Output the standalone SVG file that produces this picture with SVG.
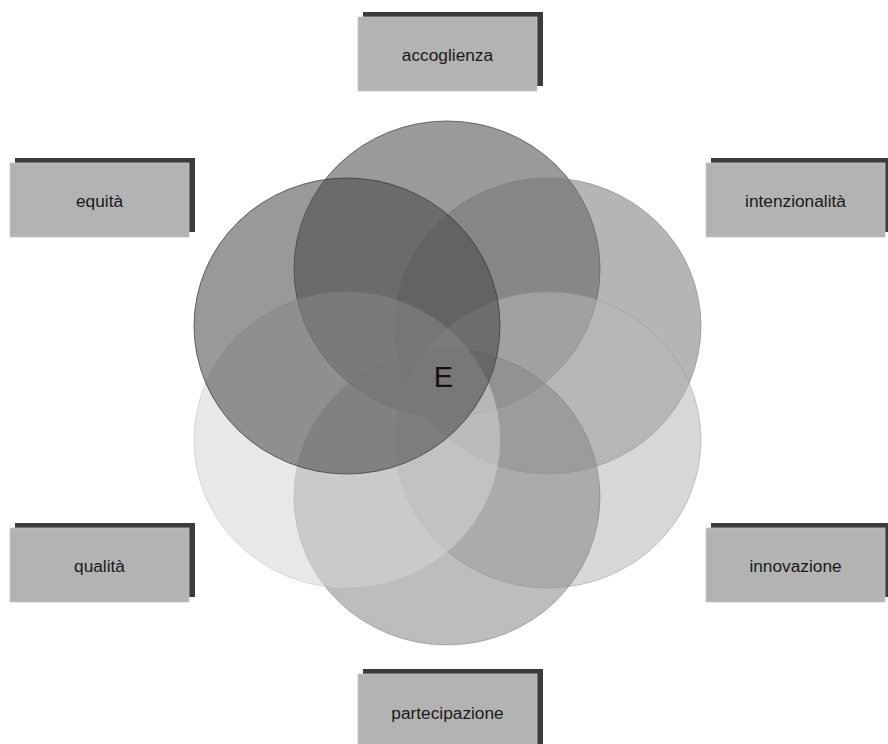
<svg xmlns="http://www.w3.org/2000/svg" width="888" height="744" viewBox="0 0 888 744">
<style>
.shadow{fill:#3b3b3b}
.box{fill:#b3b3b3;stroke:#c4c4c4;stroke-width:0.8}
.lbl{font-family:"Liberation Sans",Arial,sans-serif;font-size:17.3px;fill:#1a1a1a;text-anchor:middle}
.c{fill-opacity:0.55;stroke-width:1}
</style>
<rect width="888" height="744" fill="#ffffff"/>
<g id="circles">
<ellipse id="c-top" class="c" cx="447" cy="269" rx="153" ry="148" fill="#474747" stroke="#444" stroke-opacity="0.75"/>
<ellipse id="c-ur" class="c" cx="548" cy="326" rx="153" ry="148" fill="#787878" stroke="#777" stroke-opacity="0.55"/>
<ellipse id="c-lr" class="c" cx="548" cy="440" rx="153" ry="148" fill="#b6b6b6" stroke="#999" stroke-opacity="0.5"/>
<ellipse id="c-b" class="c" cx="447" cy="497" rx="153" ry="148" fill="#878787" stroke="#777" stroke-opacity="0.5"/>
<ellipse id="c-ll" class="c" cx="347" cy="440" rx="153" ry="148" fill="#d5d5d5" stroke="#bbb" stroke-opacity="0.5"/>
<ellipse id="c-ul" class="c" cx="347" cy="326" rx="153" ry="148" fill="#464646" stroke="#333" stroke-opacity="0.7"/>
</g>
<g id="center">
<text x="443.5" y="387" font-family="Liberation Sans,Arial,sans-serif" font-size="29" fill="#111" text-anchor="middle">E</text>
</g>
<g id="connectors"></g>
<g id="accoglienza">
<rect class="shadow" x="363" y="12" width="180" height="74"/>
<rect class="box" x="358" y="17" width="179" height="74"/>
<text class="lbl" x="447.5" y="61">accoglienza</text>
</g>
<g id="equita">
<rect class="shadow" x="15" y="158" width="180" height="74"/>
<rect class="box" x="10" y="163" width="179" height="74"/>
<text class="lbl" x="99.5" y="207">equità</text>
</g>
<g id="intenzionalita">
<rect class="shadow" x="711" y="158" width="180" height="74"/>
<rect class="box" x="706" y="163" width="179" height="74"/>
<text class="lbl" x="795.5" y="207">intenzionalità</text>
</g>
<g id="qualita">
<rect class="shadow" x="15" y="523" width="180" height="74"/>
<rect class="box" x="10" y="528" width="179" height="74"/>
<text class="lbl" x="99.5" y="572">qualità</text>
</g>
<g id="innovazione">
<rect class="shadow" x="711" y="523" width="180" height="74"/>
<rect class="box" x="706" y="528" width="179" height="74"/>
<text class="lbl" x="795.5" y="572">innovazione</text>
</g>
<g id="partecipazione">
<rect class="shadow" x="363" y="669" width="180" height="80"/>
<rect class="box" x="358" y="674" width="179" height="76"/>
<text class="lbl" x="447.5" y="719">partecipazione</text>
</g>
</svg>
